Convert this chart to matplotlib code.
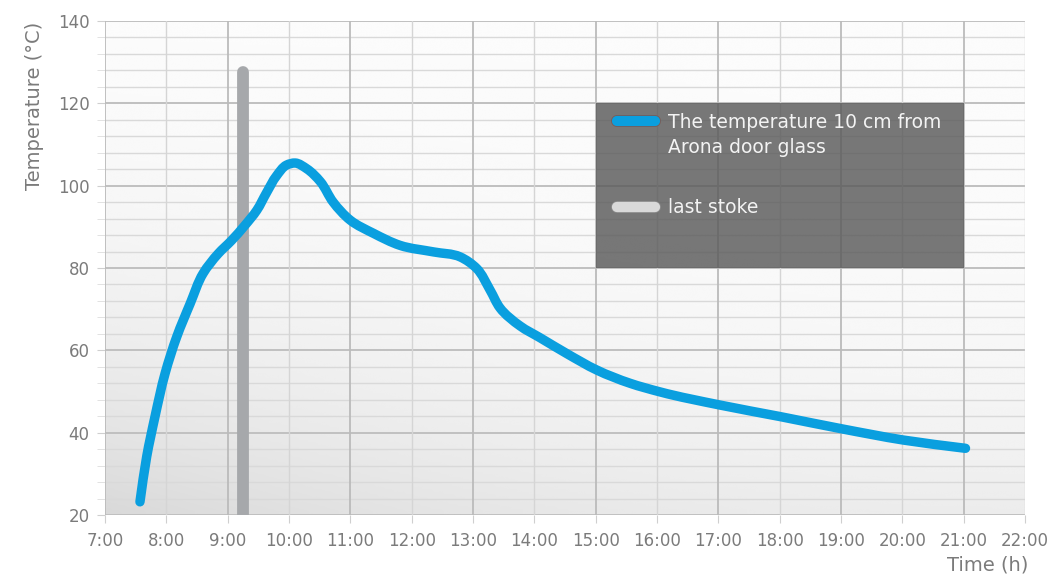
import numpy as np
import matplotlib
matplotlib.use("Agg")
import matplotlib.pyplot as plt
from matplotlib.patches import Rectangle, PathPatch
from matplotlib.path import Path

# Temperature measured 10 cm from the door glass (hour of day, degrees C)
hours = [7.57, 7.68, 7.815, 7.98, 8.17, 8.39, 8.60, 8.847, 9.064, 9.283,
         9.474, 9.634, 9.797, 9.96, 10.10, 10.29, 10.51, 10.72, 11.0, 11.38,
         11.81, 12.36, 12.79, 13.06, 13.28, 13.44, 13.77, 14.10, 14.53,
         15.02, 15.56, 16.05, 17.03, 18.01, 18.99, 20.02, 21.03]
temps = [23.2, 34.2, 43.9, 54.4, 63.3, 71.4, 78.7, 83.5, 86.7, 90.4,
         94.0, 98.3, 102.4, 105.0, 105.5, 104.1, 101.0, 96.0, 91.6, 88.4,
         85.5, 83.9, 82.7, 79.9, 74.6, 70.3, 65.9, 63.0, 59.2,
         55.2, 52.0, 49.9, 46.7, 43.9, 41.0, 38.2, 36.2]

last_stoke_hour = 9.25
last_stoke_top = 127.5

x_ticks = list(range(7, 23))
x_labels = [f"{h}:00" for h in x_ticks]
y_ticks = list(range(20, 141, 20))
y_minor = list(range(20, 141, 4))
legend_labels = ["The temperature 10 cm from\nArona door glass", "last stoke"]

BLUE = "#0a9fdf"
STOKE = "#a6a8ab"
TXT = "#7b7b7b"

plt.rcParams["font.family"] = ["DejaVu Sans"]

fig = plt.figure(figsize=(10.58, 5.75), dpi=100, facecolor="white")
ax = fig.add_axes([105 / 1058, 1 - 515 / 575, 920 / 1058, 494 / 575])

# soft grey backdrop: nearly white in the middle, greyer towards the lower left
ny, nx = 200, 300
ty = np.linspace(0, 1, ny)[:, None]
tx = np.linspace(0, 1, nx)[None, :]
shade = 0.985 - 0.06 * ty ** 3 - 0.075 * (1 - tx) ** 2 * ty ** 1.5
ax.imshow(shade, extent=[7, 22, 20, 140], origin="upper", aspect="auto",
          cmap="gray", vmin=0, vmax=1, interpolation="bicubic", zorder=0)
ax.set_xlim(7, 22)
ax.set_ylim(20, 140)

# grid
ax.set_yticks(y_ticks)
ax.set_yticks(y_minor, minor=True)
ax.grid(which="minor", axis="y", color="#d9d9d9", lw=1.0, zorder=1)
ax.grid(which="major", axis="y", color="#c0c0c0", lw=1.4, zorder=1)
for hr in x_ticks:
    ax.axvline(hr, color="#bbbbbb" if hr % 2 else "#d5d5d5",
               lw=1.3 if hr % 2 else 1.0, zorder=1)
ax.set_xticks(x_ticks)
ax.set_xticklabels(x_labels)
ax.set_axisbelow(True)

ax.tick_params(which="both", axis="y", length=6, color="#cfcfcf",
               labelsize=12, labelcolor=TXT, pad=5)
ax.tick_params(which="minor", axis="y", length=6, color="#dddddd")
ax.tick_params(axis="x", length=6, color="#cfcfcf", labelsize=12,
               labelcolor=TXT, pad=6)
for s in ax.spines.values():
    s.set_visible(False)

# last stoke marker
ax.plot([last_stoke_hour, last_stoke_hour], [20, last_stoke_top], lw=8.5,
        color=STOKE, solid_capstyle="round", zorder=2)

# temperature curve: chord-length Hermite pieces, drawn as one path of cubic
# Bezier curves through the readings (handles computed in screen proportions)
sx = 920 / 15.0
sy = 494 / 120.0
Q = np.column_stack([np.asarray(hours) * sx, np.asarray(temps) * sy])
seg = np.diff(Q, axis=0)
dt = np.hypot(seg[:, 0], seg[:, 1])
vel = seg / dt[:, None]
tan = np.empty_like(Q)
tan[0], tan[-1] = vel[0], vel[-1]
tan[1:-1] = (vel[:-1] * dt[1:, None] + vel[1:] * dt[:-1, None]) / \
    (dt[:-1] + dt[1:])[:, None]
verts = [Q[0]]
codes = [Path.MOVETO]
for i in range(len(Q) - 1):
    k = dt[i] / 3.0
    verts += [Q[i] + tan[i] * k, Q[i + 1] - tan[i + 1] * k, Q[i + 1]]
    codes += [Path.CURVE4] * 3
verts = np.array(verts) / np.array([sx, sy])
curve = PathPatch(Path(verts, codes), facecolor="none", edgecolor=BLUE,
                  lw=6.8, capstyle="round", joinstyle="round", zorder=3)
ax.add_patch(curve)

# legend panel
ax.add_patch(Rectangle((15, 80), 6, 40, facecolor="#5a5a5a", alpha=0.82,
                       edgecolor="none", zorder=4))
ax.plot([15.35, 15.97], [115.6, 115.6], lw=8.6, color="#7a5a55",
        solid_capstyle="round", zorder=5)
ax.plot([15.35, 15.97], [115.6, 115.6], lw=7.4, color=BLUE,
        solid_capstyle="round", zorder=6)
ax.plot([15.35, 15.97], [94.8, 94.8], lw=8.6, color="#8a8a8a",
        solid_capstyle="round", zorder=5)
ax.plot([15.35, 15.97], [94.8, 94.8], lw=7.4, color="#d9d9d9",
        solid_capstyle="round", zorder=6)
ax.text(16.18, 112.4, legend_labels[0], va="center", ha="left",
        color="#f3f3f3", fontsize=13.5, linespacing=1.4, zorder=7)
ax.text(16.18, 94.8, legend_labels[1], va="center", ha="left",
        color="#f3f3f3", fontsize=13.5, zorder=7)

fig.text(35 / 1058, 1 - 106 / 575, "Temperature (°C)", rotation=90,
         ha="center", va="center", fontsize=14, color=TXT)
fig.text(988 / 1058, 1 - 565 / 575, "Time (h)", ha="center", va="center",
         fontsize=14, color=TXT)

fig.savefig("out.png", dpi=100, facecolor="white")
